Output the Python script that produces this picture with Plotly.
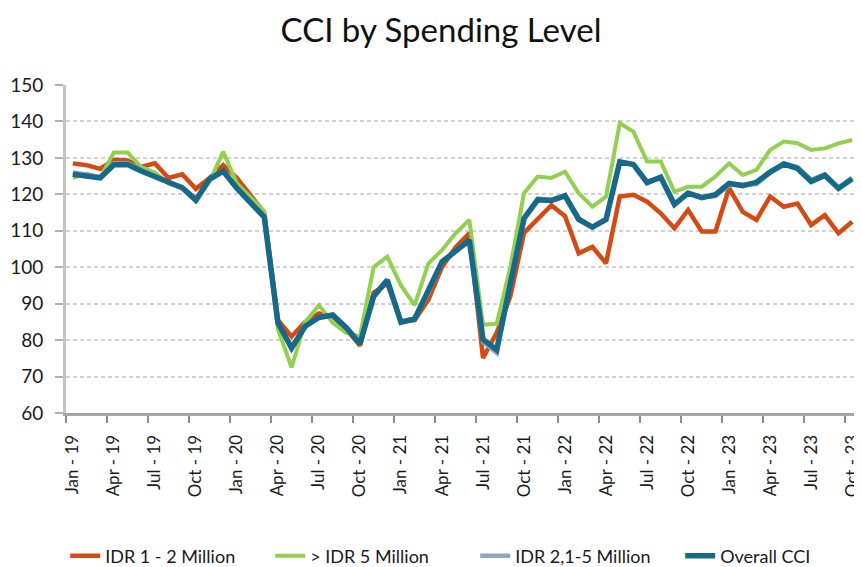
import plotly.graph_objects as go

months = ["Jan","Feb","Mar","Apr","May","Jun","Jul","Aug","Sep","Oct","Nov","Dec"]
categories = [f"{m} - {y}" for y in ["19","20","21","22","23"] for m in months][:58]

idr_1_2 = [128.5, 128, 127, 129.5, 129.3, 127.5, 128.5, 124.5, 125.5, 121.5, 124.5, 128,
           124.5, 119.5, 115, 85.5, 81, 85, 87.3, 86.5, 83, 78.5, 93, 95.5,
           85, 85.5, 91, 100, 105.5, 109.3, 75.1, 82, 92, 109.4, 113, 117,
           114, 103.8, 105.6, 101.1, 119.4, 119.9, 118, 114.8, 110.7, 115.7, 109.8, 109.8,
           121.7, 115.2, 113, 119.4, 116.6, 117.5, 111.6, 114.3, 109.3, 112.5]
idr_gt5 = [124.5, 125.7, 124.5, 131.5, 131.5, 127.5, 126, 123, 121.7, 118, 123.5, 131.7,
           123, 119, 115.4, 83, 72.5, 85, 89.6, 84.8, 82, 81, 100, 102.9,
           95, 89.6, 101, 104.7, 109.3, 113, 84.2, 84.5, 100, 120.3, 124.9, 124.5,
           126.2, 120.3, 116.6, 119.4, 139.5, 137.2, 129, 129, 120.7, 122.1, 122.1, 124.9,
           128.5, 125.3, 126.7, 132.2, 134.5, 134, 132.2, 132.6, 134, 134.9]
idr_21_5 = [126, 125.5, 124.8, 128.5, 128.5, 126.8, 125, 123.3, 122, 118.8, 124, 126.2,
            121.5, 117.5, 113.5, 84.5, 78, 84, 86.2, 87, 83.5, 79.2, 92, 96.5,
            85, 86, 93, 101.5, 104.6, 107.5, 79.5, 76.5, 95.5, 113.5, 118.8, 118.5,
            119.8, 113.5, 111, 113, 129, 128.2, 123.5, 124.6, 117.5, 120.5, 119.2, 119.5,
            122.5, 122.5, 122.8, 126, 128.5, 127.5, 124, 125.5, 121.5, 124.5]
overall = [125.5, 125.1, 124.5, 128.1, 128.2, 126.4, 124.8, 123.1, 121.8, 118.4, 124.2, 126.4,
           121.7, 117.7, 113.8, 84.8, 77.8, 83.8, 86.2, 86.9, 83.4, 79.0, 92.0, 96.5,
           84.9, 85.8, 93.4, 101.5, 104.4, 107.4, 80.2, 77.3, 95.5, 113.4, 118.5, 118.3,
           119.6, 113.1, 111.0, 113.1, 128.9, 128.2, 123.2, 124.7, 117.2, 120.3, 119.1, 119.9,
           123.0, 122.4, 123.3, 126.1, 128.3, 127.1, 123.5, 125.2, 121.7, 124.3]

series_names = ["IDR 1 - 2 Million", "> IDR 5 Million", "IDR 2,1-5 Million", "Overall CCI"]
series_values = [idr_1_2, idr_gt5, idr_21_5, overall]
colors = ["#D54A12", "#92D050", "#8FA8BC", "#17698A"]
widths = [4.5, 4, 4.5, 5.5]

x = list(range(len(categories)))
fig = go.Figure()
for name, vals, c, w in zip(series_names, series_values, colors, widths):
    fig.add_trace(go.Scatter(x=x, y=vals, mode="lines", name=name,
                             line=dict(color=c, width=w)))

label_idx = list(range(0, len(categories), 3))
font_family = "Lato, 'Liberation Sans', sans-serif"

# page has an 8px body margin; figure sized to fit the 862x567 window
W, H = 854, 559
fig.update_layout(
    width=W, height=H,
    margin=dict(l=58, r=3, t=77, b=154, autoexpand=False),
    plot_bgcolor="white", paper_bgcolor="white",
    font=dict(family=font_family, color="#1a1a1a"),
    title=dict(text="CCI by Spending Level", x=433/W, xanchor="center",
               y=1-22.5/H, yanchor="middle", yref="container",
               font=dict(size=33, family=font_family, color="#111")),
    showlegend=True,
    legend=dict(orientation="h", x=-0.001, xanchor="left", xref="paper",
                y=-0.436, yanchor="middle", yref="paper",
                font=dict(size=18, family=font_family, color="#1a1a1a"),
                entrywidth=160, entrywidthmode="pixels", traceorder="normal"),
)
fig.update_xaxes(
    range=[-0.5, len(categories) - 0.5], automargin=False,
    tickvals=label_idx, ticktext=[categories[i] for i in label_idx],
    tickangle=-90, ticks="", ticklabelstandoff=12, ticklabeloverflow="allow",
    tickfont=dict(size=17, family=font_family, color="#1a1a1a"),
    showgrid=False, zeroline=False,
    showline=True, linecolor="#a6a6a6", linewidth=3,
    minor=dict(tickvals=[i - 0.5 for i in label_idx] + [len(categories) - 0.5],
               ticks="outside", ticklen=7, tickcolor="#8c8c8c", tickwidth=2, showgrid=False),
)
fig.update_yaxes(
    range=[60, 150], dtick=10, tick0=60, automargin=False,
    ticks="outside", ticklen=8, tickcolor="#b0b0b0", tickwidth=2,
    ticklabelstandoff=8,
    tickfont=dict(size=19, family=font_family, color="#1a1a1a"),
    showgrid=True, gridcolor="#d2d2d2", gridwidth=2, griddash="4px,3px",
    zeroline=False, showline=True, linecolor="#c4c4c4", linewidth=3,
)

fig.write_html("out.html")
